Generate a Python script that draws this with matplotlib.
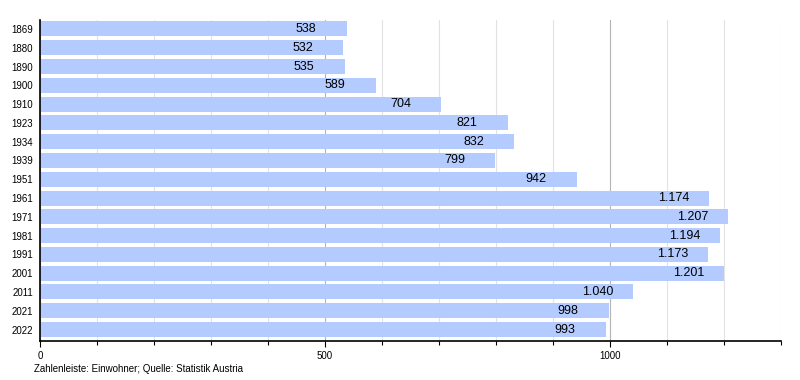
import numpy as np
import matplotlib.pyplot as plt
from matplotlib.ticker import MultipleLocator

plt.rcParams['font.family'] = ['Liberation Sans', 'DejaVu Sans']

# Data
years = ['1869', '1880', '1890', '1900', '1910', '1923', '1934', '1939', '1951',
         '1961', '1971', '1981', '1991', '2001', '2011', '2021', '2022']
population = [538, 532, 535, 589, 704, 821, 832, 799, 942,
              1174, 1207, 1194, 1173, 1201, 1040, 998, 993]

bar_color = '#b3cbff'

fig = plt.figure(figsize=(8, 3.8), dpi=100)
ax = fig.add_axes([0.05, 0.1026, 0.926, 0.846])

ypos = np.arange(len(years))
ax.barh(ypos, population, height=0.8, color=bar_color, zorder=2)

# value labels, shifted left from the bar end
for y, v in zip(ypos, population):
    label = f"{v:,}".replace(',', '.')
    ax.annotate(label, xy=(v, y), xytext=(-51, 0), textcoords='offset pixels',
                ha='left', va='center', fontsize=9, color='black', zorder=3)

ax.set_xlim(0, 1300)
ax.set_ylim(16.61, -0.5)
ax.set_yticks(ypos)
ax.set_yticklabels(years, fontsize=7)
ax.tick_params(axis='y', length=0, pad=5)

ax.xaxis.set_major_locator(MultipleLocator(500))
ax.xaxis.set_minor_locator(MultipleLocator(100))
ax.tick_params(axis='x', which='major', length=4, width=0.8, labelsize=7, pad=3)
ax.tick_params(axis='x', which='minor', length=3, width=0.8)

# grid
ax.grid(axis='x', which='minor', color='#e2e2e2', linewidth=0.8, zorder=0)
ax.grid(axis='x', which='major', color='#b4b4b4', linewidth=0.8, zorder=1)
ax.set_axisbelow(True)

ax.spines['top'].set_visible(False)
ax.spines['right'].set_visible(False)
ax.spines['left'].set_linewidth(1.2)
ax.spines['bottom'].set_linewidth(1.2)

fig.text(34 / 800, 1 - 369 / 380, "Zahlenleiste: Einwohner; Quelle: Statistik Austria",
         fontsize=7, ha='left', va='center')

plt.savefig("out.png", dpi=100)
